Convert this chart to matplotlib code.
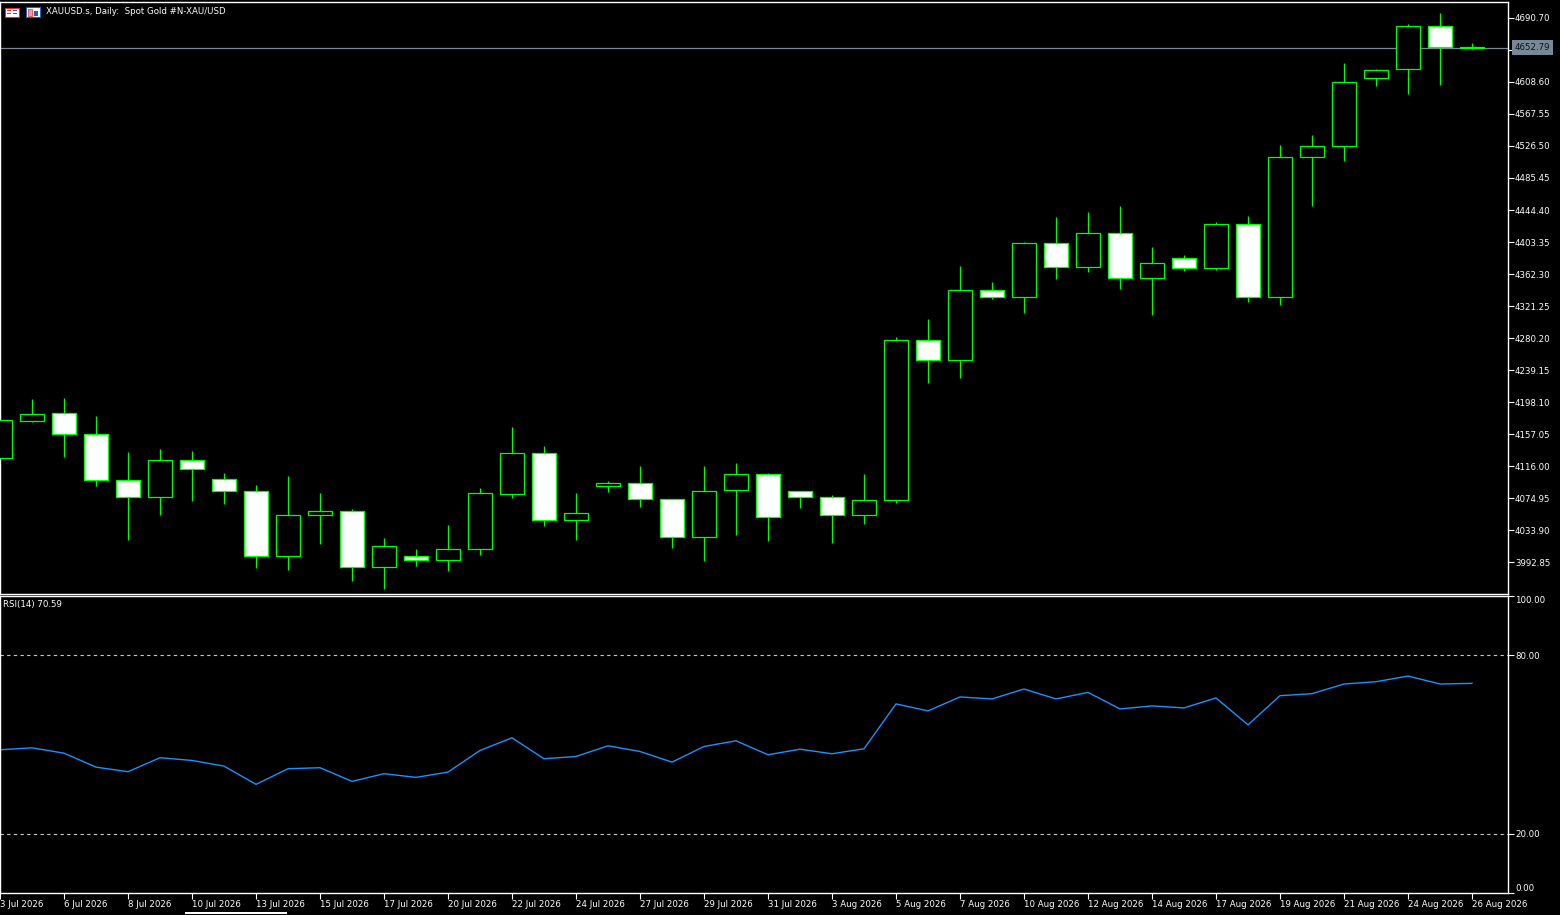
import matplotlib.pyplot as plt
from matplotlib.patches import Rectangle
import numpy as np

# daily OHLC, XAUUSD
opens = [4126.27, 4173.73, 4183.99, 4157.06, 4098.05, 4076.24, 4123.71, 4099.33, 4083.94, 4000.55,
         4053.15, 4058.28, 3986.44, 4000.55, 3995.42, 4009.53, 4080.09, 4132.68, 4046.73, 4090.35,
         4094.20, 4073.67, 4024.93, 4085.22, 4105.74, 4083.94, 4076.24, 4053.15, 4072.39, 4277.64,
         4251.98, 4341.78, 4332.80, 4402.07, 4371.28, 4414.90, 4357.17, 4382.83, 4370.00, 4426.44,
         4332.80, 4512.39, 4526.50, 4613.73, 4625.28, 4680.44, 4653.60]
highs = [4181.43, 4201.95, 4203.24, 4180.15, 4133.96, 4137.81, 4135.25, 4107.03, 4091.63, 4103.18,
         4081.37, 4060.85, 4023.64, 4009.53, 4040.32, 4087.78, 4166.03, 4141.66, 4081.37, 4096.76,
         4116.01, 4073.67, 4116.01, 4119.85, 4107.03, 4083.94, 4078.80, 4105.74, 4281.49, 4304.58,
         4372.57, 4352.04, 4403.35, 4435.42, 4441.84, 4449.53, 4396.94, 4386.68, 4429.01, 4436.70,
         4527.78, 4540.61, 4632.97, 4625.28, 4683.00, 4697.11, 4658.63]
lows = [4123.71, 4172.45, 4127.55, 4090.35, 4021.08, 4053.15, 4071.11, 4067.26, 3985.16, 3982.59,
        4015.95, 3968.48, 3958.22, 3987.73, 3981.31, 4001.84, 4074.96, 4039.04, 4021.08, 4082.65,
        4063.41, 4010.82, 3994.14, 4027.49, 4019.80, 4062.13, 4017.23, 4041.60, 4068.54, 4222.48,
        4228.89, 4330.23, 4312.27, 4355.89, 4364.87, 4343.06, 4309.71, 4366.15, 4367.43, 4326.38,
        4322.54, 4449.53, 4507.26, 4603.47, 4593.21, 4604.75, 4650.93]
closes = [4175.01, 4182.71, 4157.06, 4098.05, 4076.24, 4123.71, 4112.16, 4083.94, 4000.55, 4053.15,
          4058.28, 3986.44, 4013.38, 3995.42, 4009.53, 4081.37, 4132.68, 4046.73, 4055.71, 4094.20,
          4073.67, 4024.93, 4083.94, 4105.74, 4050.58, 4076.24, 4053.15, 4072.39, 4277.64, 4251.98,
          4341.78, 4332.80, 4402.07, 4371.28, 4414.90, 4357.17, 4376.41, 4370.00, 4426.44, 4332.80,
          4512.39, 4526.50, 4608.60, 4623.99, 4680.44, 4653.20, 4652.79]

rsi = [48.22, 48.89, 47.08, 42.38, 40.84, 45.54, 44.63, 42.72, 36.58, 41.85,
       42.18, 37.58, 40.17, 38.93, 40.70, 47.99, 52.25, 45.20, 45.97, 49.56,
       47.65, 44.06, 49.33, 51.24, 46.54, 48.42, 46.88, 48.56, 63.66, 61.31,
       66.01, 65.34, 68.69, 65.34, 67.55, 61.98, 62.99, 62.32, 65.67, 56.61,
       66.44, 67.11, 70.37, 71.14, 73.05, 70.37, 70.59]

date_labels = ["3 Jul 2026", "6 Jul 2026", "8 Jul 2026", "10 Jul 2026", "13 Jul 2026", "15 Jul 2026",
               "17 Jul 2026", "20 Jul 2026", "22 Jul 2026", "24 Jul 2026", "27 Jul 2026", "29 Jul 2026",
               "31 Jul 2026", "3 Aug 2026", "5 Aug 2026", "7 Aug 2026", "10 Aug 2026", "12 Aug 2026",
               "14 Aug 2026", "17 Aug 2026", "19 Aug 2026", "21 Aug 2026", "24 Aug 2026", "26 Aug 2026"]

price_ticks = [4690.70, 4649.65, 4608.60, 4567.55, 4526.50, 4485.45, 4444.40, 4403.35, 4362.30,
               4321.25, 4280.20, 4239.15, 4198.10, 4157.05, 4116.00, 4074.95, 4033.90, 3992.85]
rsi_ticks = [0, 20, 80, 100]
rsi_levels = [20, 80]
last_price = 4652.79

W, H = 1560, 915
BG = 'black'
FG = 'white'
GREEN = '#00ff00'
FS = 6.2

fig = plt.figure(figsize=(W / 100, H / 100), dpi=100, facecolor=BG)

# pane geometry in pixels
right = 1508
ax1 = fig.add_axes([0, (H - 594) / H, right / W, (594 - 2) / H], facecolor=BG)
ax2 = fig.add_axes([0, (H - 893) / H, right / W, (893 - 596) / H], facecolor=BG)

x = np.arange(len(opens))
o = np.array(opens)
c = np.array(closes)
hi = np.array(highs)
lo = np.array(lows)

# wicks then bodies (bull = black body, bear = white body)
ax1.vlines(x, lo, hi, color=GREEN, lw=0.9, zorder=2)
fills = ['black' if cc >= oo else 'white' for oo, cc in zip(o, c)]
heights = c - o
heights = np.where(np.abs(heights) < 0.8, 0.8 * np.sign(heights + 1e-9), heights)
ax1.bar(x, heights, bottom=o, width=0.72, color=fills, edgecolor=GREEN, linewidth=0.9, zorder=3)

ax1.axhline(last_price, color='#778899', lw=0.9, zorder=1)

ax1.set_xlim(0, right / 32)
ax1.set_ylim(3951.81, 4711.22)

# RSI pane
ax2.plot(x, rsi, color='#1e90ff', lw=1.0)
for lv in rsi_levels:
    ax2.axhline(lv, color='#c8c8c8', lw=0.8, ls=(0, (3, 3)))
ax2.set_xlim(0, right / 32)
ax2.set_ylim(0, 100)

for ax in (ax1, ax2):
    for s in ax.spines.values():
        s.set_color(FG)
        s.set_linewidth(1.0)
    ax.yaxis.tick_right()
    ax.tick_params(axis='y', colors=FG, labelcolor=FG, labelsize=FS, length=4, width=0.8,
                   direction='out', pad=1)

ax1.set_yticks(price_ticks)
# the label right under the price box is covered by it
ax1.set_yticklabels(['' if abs(p - last_price) < 10 else f"{p:.2f}" for p in price_ticks])
ax1.set_xticks([])

ax2.set_yticks(rsi_ticks)
ax2.set_yticklabels([f"{v:.2f}" for v in rsi_ticks])
ylabs = ax2.get_yticklabels()
ylabs[0].set_va('bottom')
ylabs[-1].set_va('top')

ax2.set_xticks(x[::2])
ax2.set_xticklabels(date_labels, ha='left')
ax2.tick_params(axis='x', colors=FG, labelcolor=FG, labelsize=FS, length=4, width=0.8,
                direction='out', pad=1)

# last price box on the scale
ax1.text(1.0045, last_price, f"{last_price:.2f}", transform=ax1.get_yaxis_transform(),
         fontsize=FS, color='#101010', va='center', ha='left', clip_on=False, zorder=10,
         bbox=dict(boxstyle='square,pad=0.3', fc='#778899', ec='none'))

# header text and indicator label
fig.text(46 / W, 1 - 12 / H, "XAUUSD.s, Daily:  Spot Gold #N-XAU/USD", color=FG,
         fontsize=FS, va='center', ha='left')
fig.text(3 / W, 1 - 605 / H, "RSI(14) 70.59", color=FG, fontsize=FS, va='center', ha='left')

# little toolbar icons top left
def px_rect(x0, y0, w, h, **kw):
    fig.patches.append(Rectangle((x0 / W, 1 - (y0 + h) / H), w / W, h / H,
                                 transform=fig.transFigure, **kw))

px_rect(5, 8, 14, 9, fc='white', ec='#e03030', lw=0.8)
px_rect(7, 10, 4, 1.2, fc='#e03030', ec='none')
px_rect(7, 13, 4, 1.2, fc='#e03030', ec='none')
px_rect(13, 10, 4, 1.2, fc='#2060c0', ec='none')
px_rect(13, 13, 4, 1.2, fc='#2060c0', ec='none')
px_rect(26, 7, 14, 10, fc='white', ec='#2060c0', lw=0.8)
px_rect(28, 9, 4, 7, fc='#f0a0a0', ec='#e03030', lw=0.5)
px_rect(34, 11, 4, 5, fc='#2060c0', ec='none')

# scrollbar stub at the very bottom
px_rect(185, 912, 102, 2, fc=FG, ec='none')

plt.savefig('out.png', dpi=100, facecolor=BG)
plt.close()
